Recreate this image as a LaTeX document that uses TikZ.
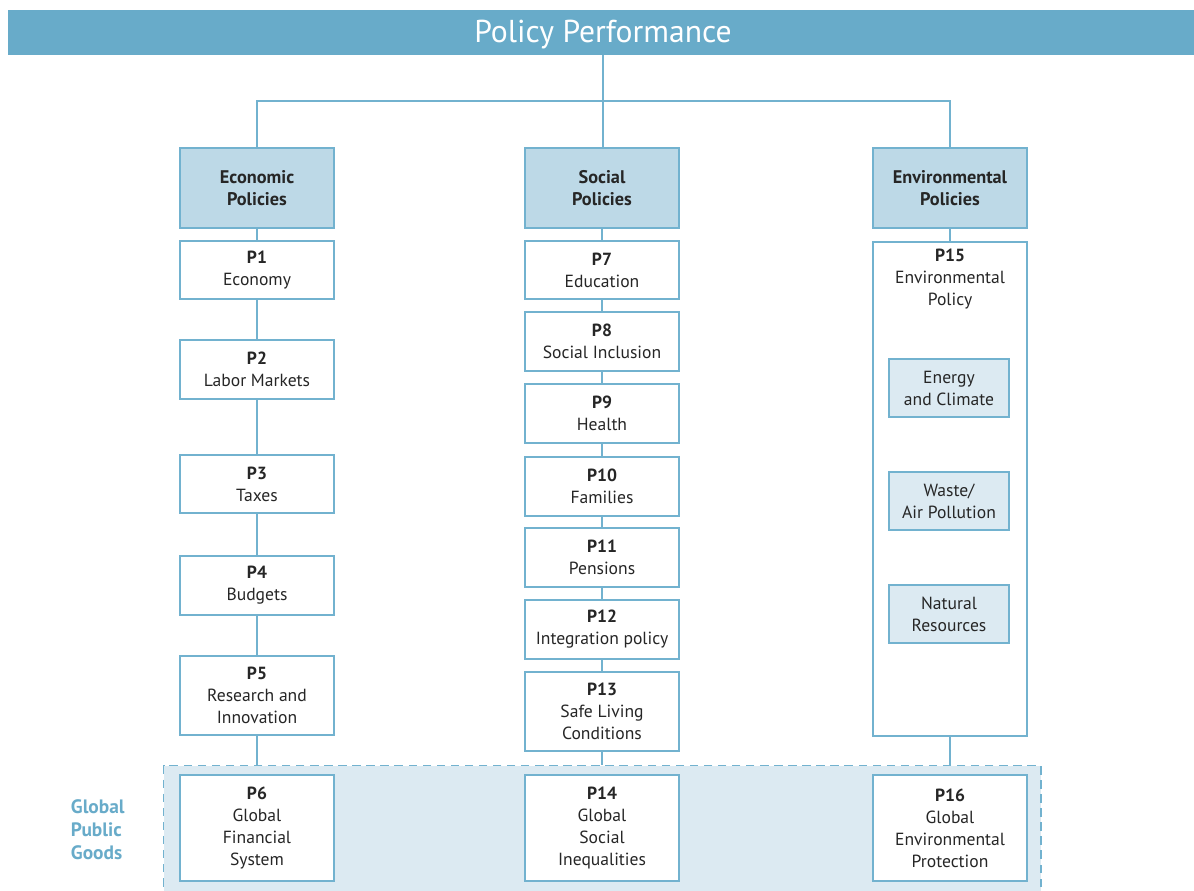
\documentclass[tikz,border=0pt]{standalone}
\usepackage{fontspec}
\setmainfont{PT Sans}
\definecolor{barblue}{HTML}{68ABC9}
\definecolor{lineblue}{HTML}{72B2CF}
\definecolor{headfill}{HTML}{BDD9E7}
\definecolor{palefill}{HTML}{DCEAF2}
\definecolor{txt}{HTML}{262626}
\tikzset{
  pbox/.style={draw=lineblue, line width=1.2pt, fill=white, minimum width=3.85cm, align=center, inner sep=0pt, text=txt},
  headbox/.style={pbox, fill=headfill, font=\fontsize{13}{15.6}\selectfont\bfseries},
  subbox/.style={pbox, fill=palefill, minimum width=3cm},
  link/.style={draw=lineblue, line width=0.9pt}
}
\begin{document}
\begin{tikzpicture}[x=0.025cm, y=-0.025cm, font=\fontsize{12.5}{15.6}\selectfont]
                \clip (0,0) rectangle (1194,891);
                \fill[barblue] (8,10) rectangle (1200,55);
                \node[text=white, font=\fontsize{22.5}{26}\selectfont] (title) at (603,34.5) {Policy Performance};
                \node[draw=lineblue, line width=1pt, dashed, dash pattern=on 6pt off 4pt, fill=palefill, minimum width=21.925cm, minimum height=3.6cm, anchor=north west] (gpg) at (163,765) {};
                \node[align=left, anchor=north west, text=barblue, font=\fontsize{13.8}{16.2}\selectfont\bfseries] (gpglabel) at (66,795) {Global\\Public\\Goods};
                \coordinate (split) at (603,101);
                % column heads
                \node[headbox, minimum height=2cm] (econ) at (257,188) {Economic\\Policies};
                \node[headbox, minimum height=2cm] (soc) at (602,188) {Social\\Policies};
                \node[headbox, minimum height=2cm] (env) at (950,188) {Environmental\\Policies};
                \draw[link] (title.south |- 0,55) -- (split);
                \draw[link] (econ.north) |- (split) -| (env.north);
                \draw[link] (split) -- (split |- soc.north);
                % economic policies
                \node[pbox, minimum height=1.45cm] (p1) at (257,270) {\textbf{P1}\\Economy};
                \node[pbox, minimum height=1.475cm] (p2) at (257,369.5) {\textbf{P2}\\Labor Markets};
                \node[pbox, minimum height=1.45cm] (p3) at (257,484) {\textbf{P3}\\Taxes};
                \node[pbox, minimum height=1.475cm] (p4) at (257,585.5) {\textbf{P4}\\Budgets};
                \node[pbox, minimum height=1.975cm] (p5) at (257,695.5) {\textbf{P5}\\Research and\\Innovation};
                \node[pbox, minimum height=2.65cm] (p6) at (257,828) {\textbf{P6}\\Global\\Financial\\System};
                \draw[link] (econ) -- (p1) -- (p2) -- (p3) -- (p4) -- (p5) -- (p5 |- gpg.north);
                % social policies
                \node[pbox, minimum height=1.45cm] (p7) at (602,270) {\textbf{P7}\\Education};
                \node[pbox, minimum height=1.475cm] (p8) at (602,341.5) {\textbf{P8}\\Social Inclusion};
                \node[pbox, minimum height=1.475cm] (p9) at (602,413.5) {\textbf{P9}\\Health};
                \node[pbox, minimum height=1.475cm] (p10) at (602,486.5) {\textbf{P10}\\Families};
                \node[pbox, minimum height=1.475cm] (p11) at (602,557.5) {\textbf{P11}\\Pensions};
                \node[pbox, minimum height=1.475cm] (p12) at (602,629.5) {\textbf{P12}\\Integration policy};
                \node[pbox, minimum height=1.975cm] (p13) at (602,711.5) {\textbf{P13}\\Safe Living\\Conditions};
                \node[pbox, minimum height=2.65cm] (p14) at (602,828) {\textbf{P14}\\Global\\Social\\Inequalities};
                \draw[link] (soc) -- (p7) -- (p8) -- (p9) -- (p10) -- (p11) -- (p12) -- (p13) -- (p13 |- gpg.north);
                % environmental policies
                \node[pbox, minimum height=12.35cm, anchor=north] (p15) at (950,241) {};
                \node[anchor=north, align=center, inner sep=0pt, text=txt] (p15txt) at (950,249) {\textbf{P15}\\Environmental\\Policy};
                \node[subbox, minimum height=1.45cm] (energy) at (949,388) {Energy\\and Climate};
                \node[subbox, minimum height=1.45cm] (waste) at (949,501) {Waste/\\Air Pollution};
                \node[subbox, minimum height=1.45cm] (natural) at (949,614) {Natural\\Resources};
                \node[pbox, minimum height=2.65cm] (p16) at (950,828) {\textbf{P16}\\Global\\Environmental\\Protection};
                \draw[link] (env) -- (p15);
                \draw[link] (p15.south) -- (p15.south |- gpg.north);
\end{tikzpicture}
\end{document}
